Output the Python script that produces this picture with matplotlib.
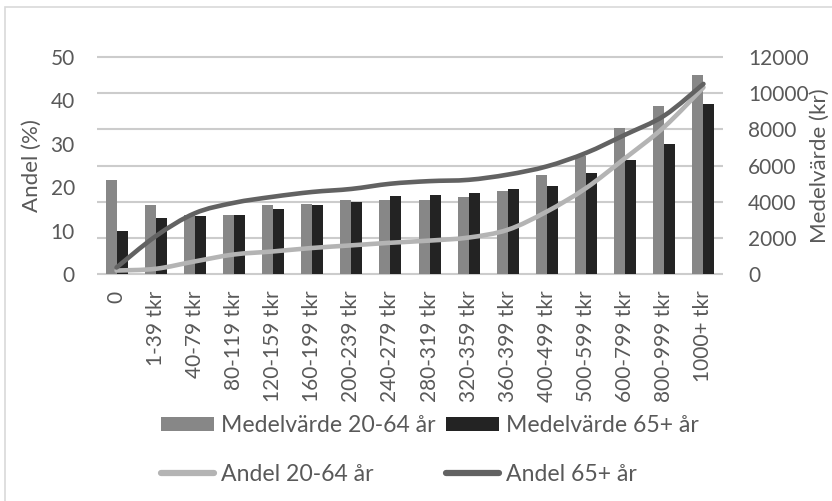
import matplotlib
matplotlib.use("Agg")
import matplotlib.pyplot as plt
from matplotlib.path import Path
from matplotlib.patches import PathPatch, Rectangle, Patch
from matplotlib.lines import Line2D
from matplotlib.transforms import Affine2D
import numpy as np

plt.rcParams['font.family'] = ['Lato', 'DejaVu Sans']

categories = ["0", "1-39 tkr", "40-79 tkr", "80-119 tkr", "120-159 tkr", "160-199 tkr",
              "200-239 tkr", "240-279 tkr", "280-319 tkr", "320-359 tkr", "360-399 tkr",
              "400-499 tkr", "500-599 tkr", "600-799 tkr", "800-999 tkr", "1000+ tkr"]
medel_2064 = [5180, 3790, 3250, 3290, 3790, 3890, 4100, 4100, 4090, 4280, 4570, 5490, 6540, 8070, 9270, 10980]
medel_65 = [2400, 3070, 3190, 3290, 3580, 3790, 3980, 4300, 4390, 4480, 4680, 4880, 5570, 6280, 7190, 9380]
andel_2064 = [0.8, 1.2, 2.9, 4.5, 5.2, 6.0, 6.6, 7.2, 7.7, 8.4, 10.2, 14.4, 19.8, 26.7, 33.9, 43.0]
andel_65 = [1.5, 8.7, 14.0, 16.4, 17.8, 18.9, 19.6, 20.8, 21.4, 21.7, 22.9, 24.8, 27.9, 32.1, 36.5, 43.8]
left_ticks = [0, 10, 20, 30, 40, 50]
right_ticks = [0, 2000, 4000, 6000, 8000, 10000, 12000]

TXT = '#595959'
FS_TICK = 15.0
FS_LAB = 16.0
FS_LEG = 16.6
C_BAR1 = '#878787'
C_BAR2 = '#232323'
C_L1 = '#b4b4b4'
C_L2 = '#626262'
GRID = '#cccccc'

W, H = 832, 501
fig = plt.figure(figsize=(W / 100, H / 100), dpi=100)
ax = fig.add_axes([97 / W, (H - 274) / H, (723 - 97) / W, (274 - 57) / H])

KR_MAX = right_ticks[-1]
PCT_MAX = left_ticks[-1]
ratio = KR_MAX / PCT_MAX

x = np.arange(len(categories))
bw = 0.28
xmin, xmax = -0.5, len(categories) - 0.5
ax.set_xlim(xmin, xmax)
ax.set_ylim(0, KR_MAX)
ax.set_yticks(right_ticks)
ax.yaxis.tick_right()
ax.yaxis.set_label_position('right')
ax.grid(False)

# horizontal gridlines as a line collection, below the bars
ax.hlines(right_ticks, xmin, xmax, colors=GRID, linewidths=1.5, zorder=2.05,
          clip_on=False)

ax.bar(x - bw / 2, medel_2064, width=bw, color=C_BAR1, zorder=2.2)
ax.bar(x + bw / 2, medel_65, width=bw, color=C_BAR2, zorder=2.2)


def smooth_path(xs, ys):
    pts = np.column_stack([xs, ys]).astype(float)
    n = len(pts)
    verts = [pts[0]]
    codes = [Path.MOVETO]
    for i in range(n - 1):
        p0 = pts[i - 1] if i > 0 else pts[i]
        p1 = pts[i]
        p2 = pts[i + 1]
        p3 = pts[i + 2] if i + 2 < n else pts[i + 1]
        c1 = p1 + (p2 - p0) / 6.0
        c2 = p2 - (p3 - p1) / 6.0
        verts += [c1, c2, p2]
        codes += [Path.CURVE4] * 3
    return Path(verts, codes)


pct_trans = Affine2D().scale(1, ratio) + ax.transData
for vals, col in [(andel_2064, C_L1), (andel_65, C_L2)]:
    pp = PathPatch(smooth_path(x, vals), fill=False, edgecolor=col, linewidth=3.3,
                   capstyle='round', joinstyle='round', zorder=3, transform=pct_trans)
    ax.add_patch(pp)

sec = ax.secondary_yaxis('left', functions=(lambda v: v / ratio, lambda v: v * ratio))
sec.set_yticks(left_ticks)
sec.tick_params(axis='y', length=0, pad=16, labelsize=FS_TICK, labelcolor=TXT)
sec.set_ylabel('Andel (%)', fontsize=FS_LAB, color=TXT, labelpad=6)
for s in sec.spines.values():
    s.set_visible(False)

ax.set_xticks(x)
ax.set_xticklabels(categories, rotation=90, fontsize=FS_TICK, color=TXT)

for s in ax.spines.values():
    s.set_visible(False)

ax.tick_params(axis='x', length=0, pad=12)
ax.tick_params(axis='y', length=0, pad=18, labelsize=FS_TICK, labelcolor=TXT)
ax.set_ylabel('Medelvärde (kr)', fontsize=FS_LAB, color=TXT, labelpad=1)

handles = [Patch(facecolor=C_BAR1, edgecolor='none'),
           Line2D([], [], color=C_L1, linewidth=4.5, solid_capstyle='round'),
           Patch(facecolor=C_BAR2, edgecolor='none'),
           Line2D([], [], color=C_L2, linewidth=4.5, solid_capstyle='round')]
labels = ['Medelvärde 20-64 år', 'Andel 20-64 år', 'Medelvärde 65+ år', 'Andel 65+ år']
leg = fig.legend(handles, labels, ncol=2, loc='upper left',
                 bbox_to_anchor=(161 / W, 1 - 415 / H), bbox_transform=fig.transFigure,
                 frameon=False, fontsize=FS_LEG, handlelength=2.3, handleheight=0.55,
                 handletextpad=0.3, columnspacing=0.45, labelspacing=1.2, borderpad=0,
                 borderaxespad=0)
for t in leg.get_texts():
    t.set_color(TXT)

fig.add_artist(Rectangle((5 / W, -0.1), 1.2, 1.1 - 7 / H, transform=fig.transFigure,
                         fill=False, edgecolor='#d9d9d9', linewidth=1.2, zorder=10))

fig.savefig('out.png', dpi=100)
